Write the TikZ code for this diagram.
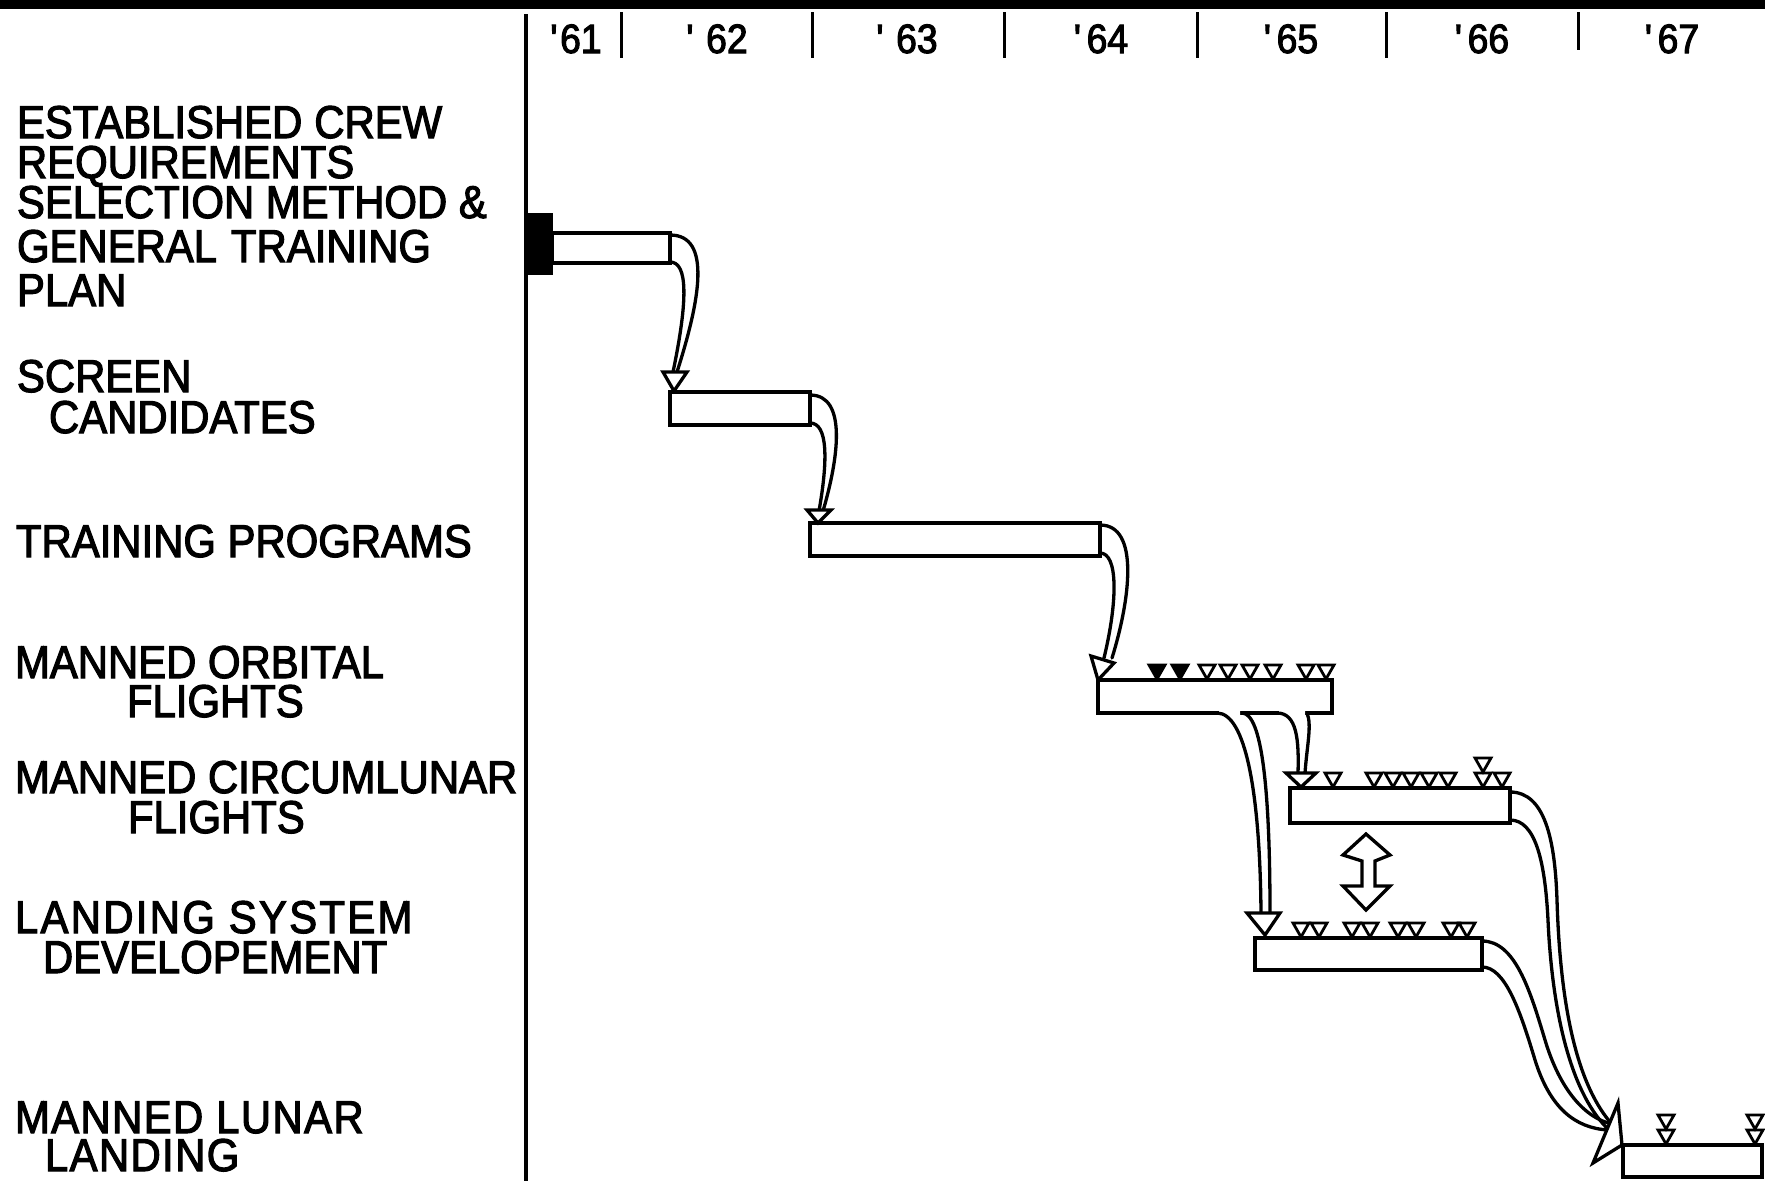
\documentclass[tikz,border=0pt]{standalone}
\usepackage{fontspec}
\setmainfont{Liberation Sans}[FakeStretch=0.91,FakeBold=2.5]
\usetikzlibrary{calc}
\newcommand\mkTri[3][mk]{\path[#1] ({#2-8},{#3-14}) -- ({#2+8},{#3-14}) -- (#2,#3) -- cycle;}
\begin{document}
\begin{tikzpicture}[x=1pt,y=-1pt,
  lab/.style={anchor=base west, inner sep=0pt, outer sep=0pt, text height=34pt, text depth=0pt, font=\fontsize{46}{46}\selectfont},
  yr/.style={anchor=base, inner sep=0pt, outer sep=0pt, text height=30pt, text depth=0pt, font=\fontsize{41}{41}\selectfont},
  bar/.style={draw, line width=4pt, fill=white, inner sep=0pt, outer sep=0pt, anchor=north west, rectangle},
  edge/.style={line width=3.3pt, line cap=round, line join=round},
  head/.style={draw, fill=white, line width=3.3pt, line join=miter},
  mk/.style={draw, fill=white, line width=2.8pt, line join=miter},
  mkf/.style={draw, fill=black, line width=2.8pt, line join=miter},
  tick/.style={line width=3pt},
]
\useasboundingbox (0,0) rectangle (1765,1181);
\fill[white] (0,0) rectangle (1765,1181);
\fill[black] (0,0) rectangle (1765,9);

% axis and ticks
\coordinate (axtop) at (526,14);
\coordinate (axbot) at (526,1181);
\draw[line width=4pt] (axtop) -- (axbot);
\foreach \x in {621,812,1004,1197,1386} \draw[tick] (\x,12) -- (\x,58);
\draw[tick] (1578,12) -- (1578,50);

% year labels
\node[yr] (y61) at (576,53) {\textquotesingle\hspace{2pt}61};
\node[yr] (y62) at (717,53) {\textquotesingle\hspace{12pt}62};
\node[yr] (y63) at (907,53) {\textquotesingle\hspace{12pt}63};
\node[yr] (y64) at (1101,53) {\textquotesingle\hspace{5pt}64};
\node[yr] (y65) at (1291,53) {\textquotesingle\hspace{5pt}65};
\node[yr] (y66) at (1482,53) {\textquotesingle\hspace{5pt}66};
\node[yr] (y67) at (1672,53) {\textquotesingle\hspace{5pt}67};

% row labels
\node[lab] (t1a) at (17,138) {ESTABLISHED\hspace{12pt}CREW};
\node[lab] (t1b) at (17,178) {REQUIREMENTS};
\node[lab] (t1c) at (17,218) {SELECTION METHOD \&};
\node[lab] (t1d) at (17,262) {GENERAL\hspace{14pt}TRAINING};
\node[lab] (t1e) at (17,306) {PLAN};
\node[lab] (t2a) at (17,392) {SCREEN};
\node[lab] (t2b) at (49,433) {CANDIDATES};
\node[lab] (t3a) at (16,557) {TRAINING PROGRAMS};
\node[lab] (t4a) at (15,678) {MANNED ORBITAL};
\node[lab] (t4b) at (127,717) {FLIGHTS};
\node[lab] (t5a) at (15,793) {MANNED CIRCUMLUNAR};
\node[lab] (t5b) at (128,833) {FLIGHTS};
\node[lab] (t6a) at (15,933) {\addfontfeature{LetterSpace=5}LANDING SYSTEM};
\node[lab] (t6b) at (43,973) {DEVELOPEMENT};
\node[lab] (t7a) at (15,1133) {\addfontfeature{LetterSpace=3}MANNED LUNAR};
\node[lab] (t7b) at (45,1171) {\addfontfeature{LetterSpace=3}LANDING};

% bars
\node[bar, minimum width=118pt, minimum height=30pt] (b1) at (552,233) {};
\node[fill=black, draw=none, inner sep=0pt, outer sep=0pt, anchor=north west, minimum width=26pt, minimum height=62pt] (blk) at (527,213) {};
\node[bar, minimum width=140pt, minimum height=33pt] (b2) at (670,392) {};
\node[bar, minimum width=290pt, minimum height=33pt] (b3) at (810,523) {};
\node[bar, minimum width=234pt, minimum height=33pt] (b4) at (1098,680) {};
\node[bar, minimum width=220pt, minimum height=35pt] (b5) at (1290,788) {};
\node[bar, minimum width=227pt, minimum height=32pt] (b6) at (1255,938) {};
\node[bar, minimum width=139pt, minimum height=32pt] (b7) at (1623,1145) {};

% arrow b1 -> b2
\coordinate (h1) at ($(b2.north west)+(4,-1)$);
\draw[edge] ($(b1.north east)+(0,2)$) .. controls (712,235) and (700,300) .. (677,372);
\draw[edge] ($(b1.south east)+(0,-1)$) .. controls (688,262) and (688,300) .. (673,372);
\path[head] ($(h1)+(-11,-19)$) -- ($(h1)+(13,-19)$) -- (h1) -- cycle;

% arrow b2 -> b3
\coordinate (h2) at ($(b3.north west)+(8,0)$);
\draw[edge] ($(b2.north east)+(0,3)$) .. controls (848,395) and (838,460) .. (823,511);
\draw[edge] ($(b2.south east)+(0,-2)$) .. controls (828,423) and (828,460) .. (819,511);
\path[head] ($(h2)+(-11,-13)$) -- ($(h2)+(13,-13)$) -- (h2) -- cycle;

% arrow b3 -> b4
\coordinate (h3) at (b4.north west);
\draw[edge] ($(b3.north east)+(0,2)$) .. controls (1140,525) and (1130,600) .. (1112,658);
\draw[edge] ($(b3.south east)+(0,-3)$) .. controls (1118,553) and (1118,600) .. (1104,658);
\path[head] ($(h3)+(-7,-24)$) -- ($(h3)+(16,-17)$) -- (h3) -- cycle;

% arrow b4 -> b6
\coordinate (h4) at ($(b6.north west)+(10,-3)$);
\fill[white] (1219,709) -- (1219,715) .. controls (1245,716) and (1258,790) .. (1259,913) -- (1268,913) .. controls (1268,790) and (1262,716) .. (1240,715) -- (1240,709) -- cycle;
\draw[edge] (1217,713) .. controls (1245,713) and (1260,790) .. (1261,913);
\draw[edge] (1242,713) .. controls (1262,713) and (1270,790) .. (1270,913);
\path[head] ($(h4)+(-18,-22)$) -- ($(h4)+(15,-22)$) -- (h4) -- cycle;

% arrow b4 -> b5
\coordinate (h5) at ($(b5.north west)+(11,-1)$);
\fill[white] (1279,709) -- (1279,715) .. controls (1296,716) and (1297,740) .. (1297,773) -- (1304,773) .. controls (1305,745) and (1309,725) .. (1305,715) -- (1305,709) -- cycle;
\draw[edge] (1277,713) .. controls (1297,713) and (1299,740) .. (1298,773);
\draw[edge] (1307,713) .. controls (1312,725) and (1307,745) .. (1305,773);
\path[head] ($(h5)+(-15,-14)$) -- ($(h5)+(15,-14)$) -- (h5) -- cycle;

% arrows b5, b6 -> b7
\coordinate (h7) at ($(b7.north west)+(-30,18)$);
\draw[edge] ($(b5.north east)+(0,4)$) .. controls (1545,792) and (1555,840) .. (1557,900) .. controls (1560,1000) and (1575,1080) .. (1610,1122);
\draw[edge] ($(b5.south east)+(0,-3)$) .. controls (1535,820) and (1545,860) .. (1548,920) .. controls (1552,1010) and (1570,1090) .. (1606,1127);
\draw[edge] ($(b6.north east)+(0,3)$) .. controls (1515,941) and (1530,990) .. (1545,1040) .. controls (1560,1090) and (1585,1118) .. (1612,1124);
\draw[edge] ($(b6.south east)+(0,-3)$) .. controls (1505,967) and (1520,1010) .. (1535,1060) .. controls (1550,1108) and (1575,1128) .. (1608,1130);
\path[head] ($(b7.north west)+(-5,-42)$) -- ($(b7.north west)+(-1,0)$) -- (h7) -- cycle;

% double arrow between b5 and b6
\path[head] (1366,834) -- (1390,855) -- (1375,861) -- (1375,886) -- (1390,886) -- (1366,910) -- (1343,886) -- (1362,886) -- (1362,861) -- (1343,855) -- cycle;

% milestone markers
\mkTri[mkf]{1157}{679}
\mkTri[mkf]{1180}{679}
\foreach \x in {1207,1228,1250,1273,1306,1326} {\mkTri{\x}{679}}
\foreach \x in {1333,1374,1393,1411,1429,1448,1483,1502} {\mkTri{\x}{787}}
\mkTri{1483}{772}
\foreach \x in {1301,1319,1352,1370,1398,1416,1451,1467} {\mkTri{\x}{937}}
\foreach \x in {1666,1755} {\mkTri{\x}{1144}\mkTri{\x}{1129}}
\end{tikzpicture}
\end{document}
